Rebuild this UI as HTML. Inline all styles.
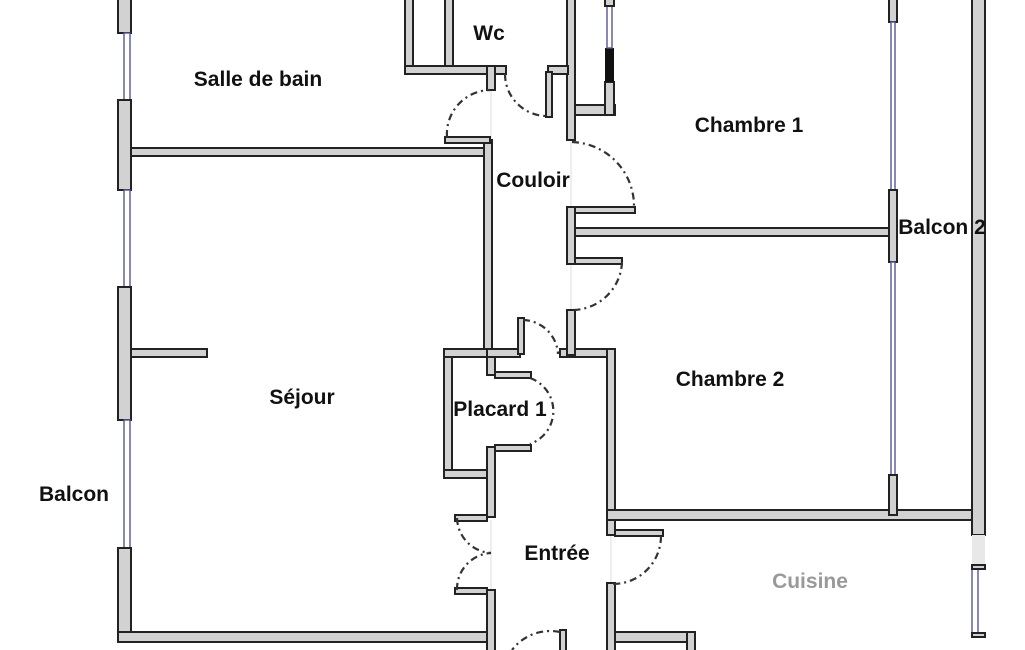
<!DOCTYPE html>
<html><head><meta charset="utf-8"><style>
html,body{margin:0;padding:0;background:#fff}
svg{display:block}
text{font-family:"Liberation Sans",sans-serif;font-weight:bold;font-size:21px;fill:#111;text-anchor:middle}
.w{fill:#d2d2d2;stroke:#222;stroke-width:2}
.win{fill:#fff;stroke:#55559a;stroke-width:1.4}
.d{fill:none;stroke:#333;stroke-width:2.2;stroke-dasharray:7,4,2,4}
.th{stroke:#ddd;stroke-width:1}
</style></head><body>
<svg width="1025" height="650" viewBox="0 0 1025 650">
<line class="th" x1="491" y1="74" x2="491" y2="148"/>
<line class="th" x1="571" y1="140" x2="571" y2="310"/>
<line class="th" x1="491" y1="520" x2="491" y2="590"/>
<line class="th" x1="611" y1="535" x2="611" y2="583"/>
<rect class="w" x="118" y="-2" width="13" height="35"/>
<rect class="win" x="124" y="33" width="6" height="67"/>
<rect class="w" x="118" y="100" width="13" height="90"/>
<rect class="win" x="124" y="190" width="6" height="97"/>
<rect class="w" x="118" y="287" width="13" height="133"/>
<rect class="win" x="124" y="420" width="6" height="128"/>
<rect class="w" x="118" y="548" width="13" height="94"/>
<rect class="w" x="118" y="632" width="374" height="10"/>
<rect class="w" x="131" y="148" width="361" height="8"/>
<rect class="w" x="131" y="349" width="76" height="8"/>
<rect class="w" x="484" y="140" width="8" height="217"/>
<rect class="w" x="445" y="137" width="45" height="6"/>
<rect class="w" x="444" y="349" width="8" height="129"/>
<rect class="w" x="444" y="349" width="51" height="8"/>
<rect class="w" x="444" y="470" width="51" height="8"/>
<rect class="w" x="487" y="349" width="8" height="26"/>
<rect class="w" x="487" y="447" width="8" height="70"/>
<rect class="w" x="495" y="372" width="36" height="6"/>
<rect class="w" x="495" y="445" width="36" height="6"/>
<rect class="w" x="487" y="590" width="8" height="62"/>
<rect class="w" x="455" y="515" width="32" height="6"/>
<rect class="w" x="455" y="588" width="32" height="6"/>
<rect class="w" x="487" y="349" width="33" height="8"/>
<rect class="w" x="518" y="318" width="6" height="36"/>
<rect class="w" x="560" y="349" width="55" height="8"/>
<rect class="w" x="567" y="310" width="8" height="45"/>
<rect class="w" x="607" y="349" width="8" height="186"/>
<rect class="w" x="615" y="530" width="48" height="6"/>
<rect class="w" x="607" y="583" width="8" height="70"/>
<rect class="w" x="615" y="632" width="80" height="10"/>
<rect class="w" x="687" y="632" width="8" height="20"/>
<rect class="w" x="560" y="630" width="6" height="22"/>
<rect class="w" x="607" y="510" width="378" height="10"/>
<rect class="w" x="567" y="-2" width="8" height="142"/>
<rect class="w" x="567" y="207" width="8" height="57"/>
<rect class="w" x="575" y="207" width="60" height="6"/>
<rect class="w" x="575" y="258" width="47" height="6"/>
<rect class="w" x="575" y="228" width="318" height="8"/>
<rect class="w" x="405" y="-2" width="8" height="76"/>
<rect class="w" x="445" y="-2" width="8" height="70"/>
<rect class="w" x="405" y="66" width="101" height="8"/>
<rect class="w" x="487" y="66" width="8" height="24"/>
<rect class="w" x="548" y="66" width="20" height="8"/>
<rect class="w" x="546" y="72" width="6" height="45"/>
<rect class="w" x="575" y="105" width="40" height="10"/>
<rect class="w" x="605" y="82" width="9" height="33"/>
<rect x="605" y="48" width="9" height="34" fill="#111"/>
<rect class="win" x="607" y="6" width="5" height="42"/>
<rect class="w" x="605" y="-2" width="9" height="8"/>
<rect class="w" x="889" y="-2" width="8" height="24"/>
<rect class="win" x="891" y="22" width="4" height="168"/>
<rect class="w" x="889" y="190" width="8" height="72"/>
<rect class="win" x="891" y="262" width="4" height="213"/>
<rect class="w" x="889" y="475" width="8" height="40"/>
<rect class="w" x="972" y="-2" width="13" height="537"/>
<rect fill="#e8e8e8" x="972" y="535" width="13" height="30"/>
<rect class="win" x="972" y="567" width="6" height="70"/>
<rect class="w" x="972" y="565" width="13" height="4"/>
<rect class="w" x="972" y="633" width="13" height="4"/>
<path class="d" d="M447,137 A44,44 0 0 1 490,90"/>
<path class="d" d="M505,74 A42,42 0 0 0 546,116"/>
<path class="d" d="M572,142 A64,64 0 0 1 634,206"/>
<path class="d" d="M622,262 A50,50 0 0 1 572,310"/>
<path class="d" d="M523,320 A36,36 0 0 1 558,354"/>
<path class="d" d="M530,378 A35,35 0 0 1 530,444"/>
<path class="d" d="M457,518 A36,36 0 0 0 491,553 A36,36 0 0 0 457,590"/>
<path class="d" d="M661,536 A48,48 0 0 1 613,584"/>
<path class="d" d="M560,632 A48,48 0 0 0 512,650"/>
<text x="258" y="86">Salle de bain</text>
<text x="489" y="40">Wc</text>
<text x="749" y="132">Chambre 1</text>
<text x="533" y="187">Couloir</text>
<text x="942" y="234">Balcon 2</text>
<text x="302" y="404">Séjour</text>
<text x="500" y="416">Placard 1</text>
<text x="730" y="386">Chambre 2</text>
<text x="74" y="501">Balcon</text>
<text x="557" y="560">Entrée</text>
<text x="810" y="588" style="fill:#999">Cuisine</text>
</svg>
</body></html>
